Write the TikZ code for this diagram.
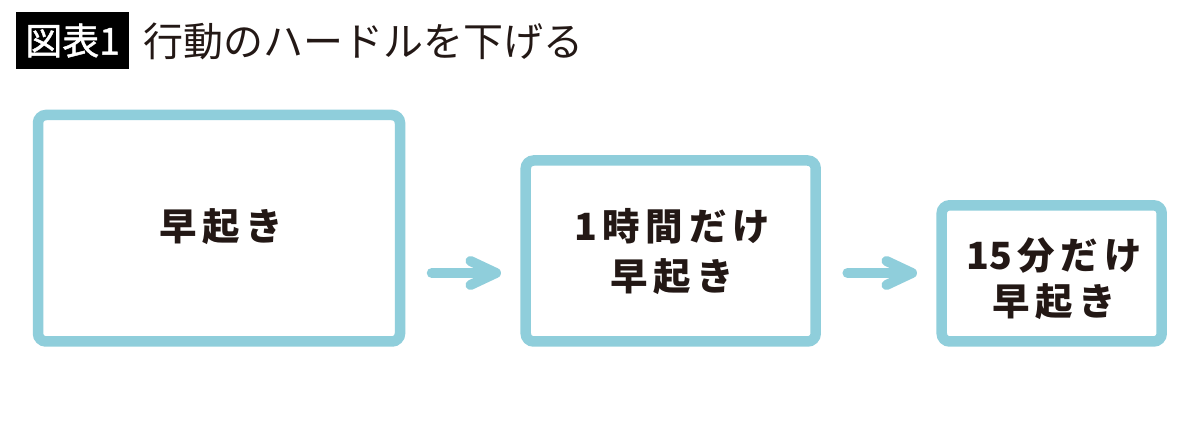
\documentclass[tikz,border=0pt]{standalone}
\usepackage{fontspec}
\usetikzlibrary{calc}
\newfontfamily\jp{Noto Sans CJK JP}
\newfontfamily\jpmed[FakeBold=1.2]{Noto Sans CJK JP}
\newfontfamily\jpsp[LetterSpace=15]{Noto Sans CJK JP}
\definecolor{boxblue}{RGB}{143,206,219}
\definecolor{ink}{RGB}{35,24,21}
\tikzset{
  stepbox/.style={draw=boxblue, line width=10.5pt, rounded corners=8pt, inner sep=0pt},
  boxtext/.style={text=ink, align=center, inner sep=0pt, font=\jpsp\bfseries\fontsize{37.5}{50}\selectfont},
  flow/.style={draw=boxblue, line width=10pt, line cap=round, line join=round},
}
\begin{document}
\begin{tikzpicture}[x=1pt,y=-1pt]
\useasboundingbox (0,0) rectangle (1200,430);
\fill[white] (0,0) rectangle (1200,430);
% title
\node[fill=black, text=white, minimum width=113pt, minimum height=57pt, inner sep=0pt,
      font=\jpmed\fontsize{37}{40}\selectfont] (tag) at (72.5,40.5) {図表1};
\node[anchor=west, text=ink, inner sep=0pt, font=\jp\fontsize{40}{44}\selectfont] (title) at (143,41.5) {行動のハードルを下げる};
% boxes
\node[stepbox, minimum width=362pt, minimum height=226.5pt] (b1) at (219,228.25) {};
\node[stepbox, minimum width=290pt, minimum height=181pt] (b2) at (670.7,251) {};
\node[stepbox, minimum width=220pt, minimum height=136.2pt] (b3) at (1051.7,273.4) {};
% texts
\node[boxtext] (t1) at (221,227) {早起き};
\node[boxtext] (t2) at (672,251.7) {1時間だけ\\早起き};
\node[boxtext, font=\jpsp\bfseries\fontsize{37.5}{45.5}\selectfont] (t3) at (1054,278.7) {{\jp\bfseries 15}\kern5.6pt 分だけ\\早起き};
% arrows
\coordinate (ay) at (0,273);
\draw[flow] ($(b1.east |- ay)+(26.5,0)$) -- ($(b2.west |- ay)+(-24.5,0)$);
\draw[flow] ($(b2.west |- ay)+(-50,-12)$) -- ($(b2.west |- ay)+(-24.5,0)$) -- ($(b2.west |- ay)+(-50,12)$);
\draw[flow] ($(b2.east |- ay)+(26.5,0)$) -- ($(b3.west |- ay)+(-24.5,0)$);
\draw[flow] ($(b3.west |- ay)+(-50,-12)$) -- ($(b3.west |- ay)+(-24.5,0)$) -- ($(b3.west |- ay)+(-50,12)$);
\end{tikzpicture}
\end{document}
